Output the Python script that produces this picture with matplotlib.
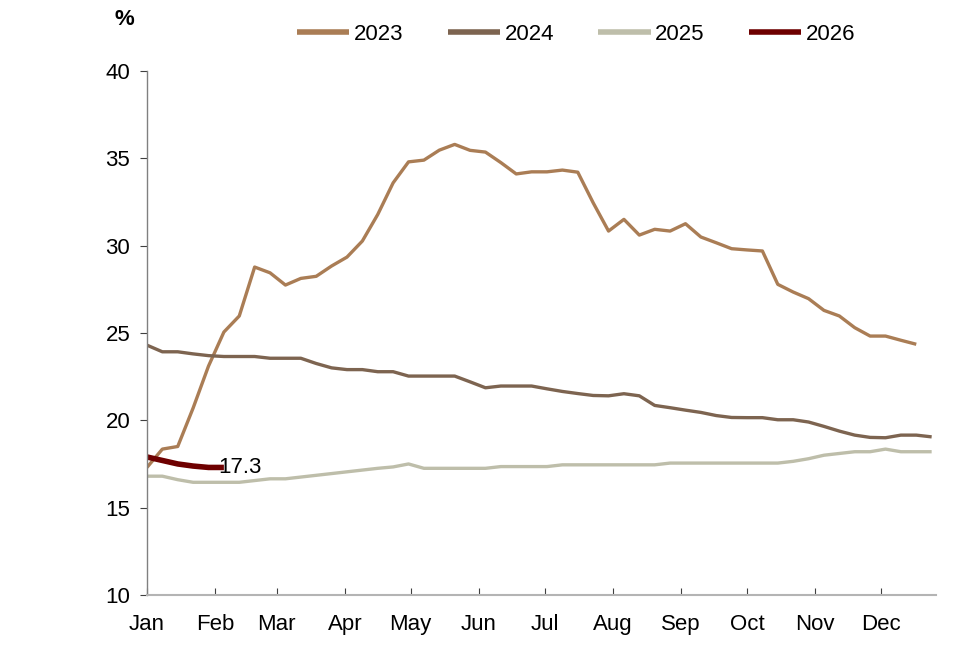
import numpy as np
import pandas as pd
import matplotlib
matplotlib.use("Agg")
import matplotlib.pyplot as plt

# weekly readings, %
y2023 = [17.3, 18.35, 18.5, 20.7, 23.1, 25.05, 25.97, 28.77, 28.44, 27.74,
         28.12, 28.24, 28.83, 29.34, 30.26, 31.78, 33.59, 34.79, 34.89, 35.46,
         35.79, 35.45, 35.35, 34.75, 34.1, 34.22, 34.22, 34.32, 34.2, 32.45,
         30.83, 31.5, 30.6, 30.93, 30.83, 31.25, 30.49, 30.16, 29.82, 29.75,
         29.69, 27.78, 27.34, 26.96, 26.29, 25.97, 25.3, 24.82, 24.82, 24.58,
         24.35]
y2024 = [24.3, 23.92, 23.92, 23.8, 23.7, 23.65, 23.65, 23.65, 23.55, 23.55,
         23.55, 23.25, 23.0, 22.9, 22.9, 22.78, 22.78, 22.53, 22.53, 22.53,
         22.53, 22.2, 21.86, 21.96, 21.96, 21.96, 21.8, 21.65, 21.53, 21.42,
         21.4, 21.52, 21.4, 20.85, 20.72, 20.58, 20.45, 20.27, 20.16, 20.15,
         20.15, 20.03, 20.03, 19.9, 19.65, 19.38, 19.15, 19.02, 19.0, 19.15,
         19.15, 19.05]
y2025 = [16.8, 16.8, 16.6, 16.45, 16.45, 16.45, 16.45, 16.55, 16.65, 16.65,
         16.75, 16.85, 16.95, 17.05, 17.15, 17.25, 17.33, 17.5, 17.25, 17.25,
         17.25, 17.25, 17.25, 17.35, 17.35, 17.35, 17.35, 17.45, 17.45, 17.45,
         17.45, 17.45, 17.45, 17.45, 17.55, 17.55, 17.55, 17.55, 17.55, 17.55,
         17.55, 17.55, 17.65, 17.8, 18.0, 18.1, 18.2, 18.2, 18.35, 18.2,
         18.2, 18.2]
y2026 = [17.9, 17.7, 17.5, 17.38, 17.3, 17.3]

series = [("2023", y2023, "#AA7D55", 2.4),
          ("2024", y2024, "#7D6450", 2.4),
          ("2025", y2025, "#BEBEAA", 2.4),
          ("2026", y2026, "#6E0000", 4.0)]

months = ["Jan", "Feb", "Mar", "Apr", "May", "Jun",
          "Jul", "Aug", "Sep", "Oct", "Nov", "Dec"]
month_start = pd.date_range("2023-01-01", periods=12, freq="MS").dayofyear - 1

plt.rcParams["font.family"] = ["Liberation Sans", "DejaVu Sans"]

fig = plt.figure(figsize=(9.7, 6.56), dpi=100)
ax = fig.add_axes([0.1515, 0.093, 0.8135, 0.799])

for name, vals, col, lw in series:
    x = np.arange(len(vals)) * 7
    ax.plot(x, vals, color=col, lw=lw, label=name, solid_capstyle="butt")

# end label for latest series
x26 = (len(y2026) - 1) * 7
ax.annotate(f"{y2026[-1]:.1f}", xy=(x26, y2026[-1]), xytext=(-4, 0),
            textcoords="offset points", ha="left", va="center", fontsize=16)

ax.set_xlim(0, 359)
ax.set_ylim(10, 40)
ax.set_yticks(np.arange(10, 41, 5))
ax.set_xticks(month_start)
ax.set_xticklabels(months)

for s in ["top", "right"]:
    ax.spines[s].set_visible(False)
ax.spines["left"].set_color("#808080")
ax.spines["bottom"].set_color("#B4B4B4")
ax.spines["left"].set_linewidth(1.0)
ax.spines["bottom"].set_linewidth(1.5)
ax.tick_params(axis="y", direction="out", length=5, color="#404040",
               labelsize=16, pad=7)
ax.tick_params(axis="x", direction="in", length=5, color="#404040",
               labelsize=16, pad=14)

fig.text(0.118, 0.97, "%", fontsize=16, fontweight="bold", ha="left", va="center")

leg = fig.legend(loc="center", bbox_to_anchor=(0.594, 0.947), ncol=4, frameon=False,
                 fontsize=16, handlelength=2.35, handletextpad=0.2, columnspacing=2.0)
for h in leg.get_lines():
    h.set_linewidth(4.0)

fig.savefig("out.png", dpi=100)
